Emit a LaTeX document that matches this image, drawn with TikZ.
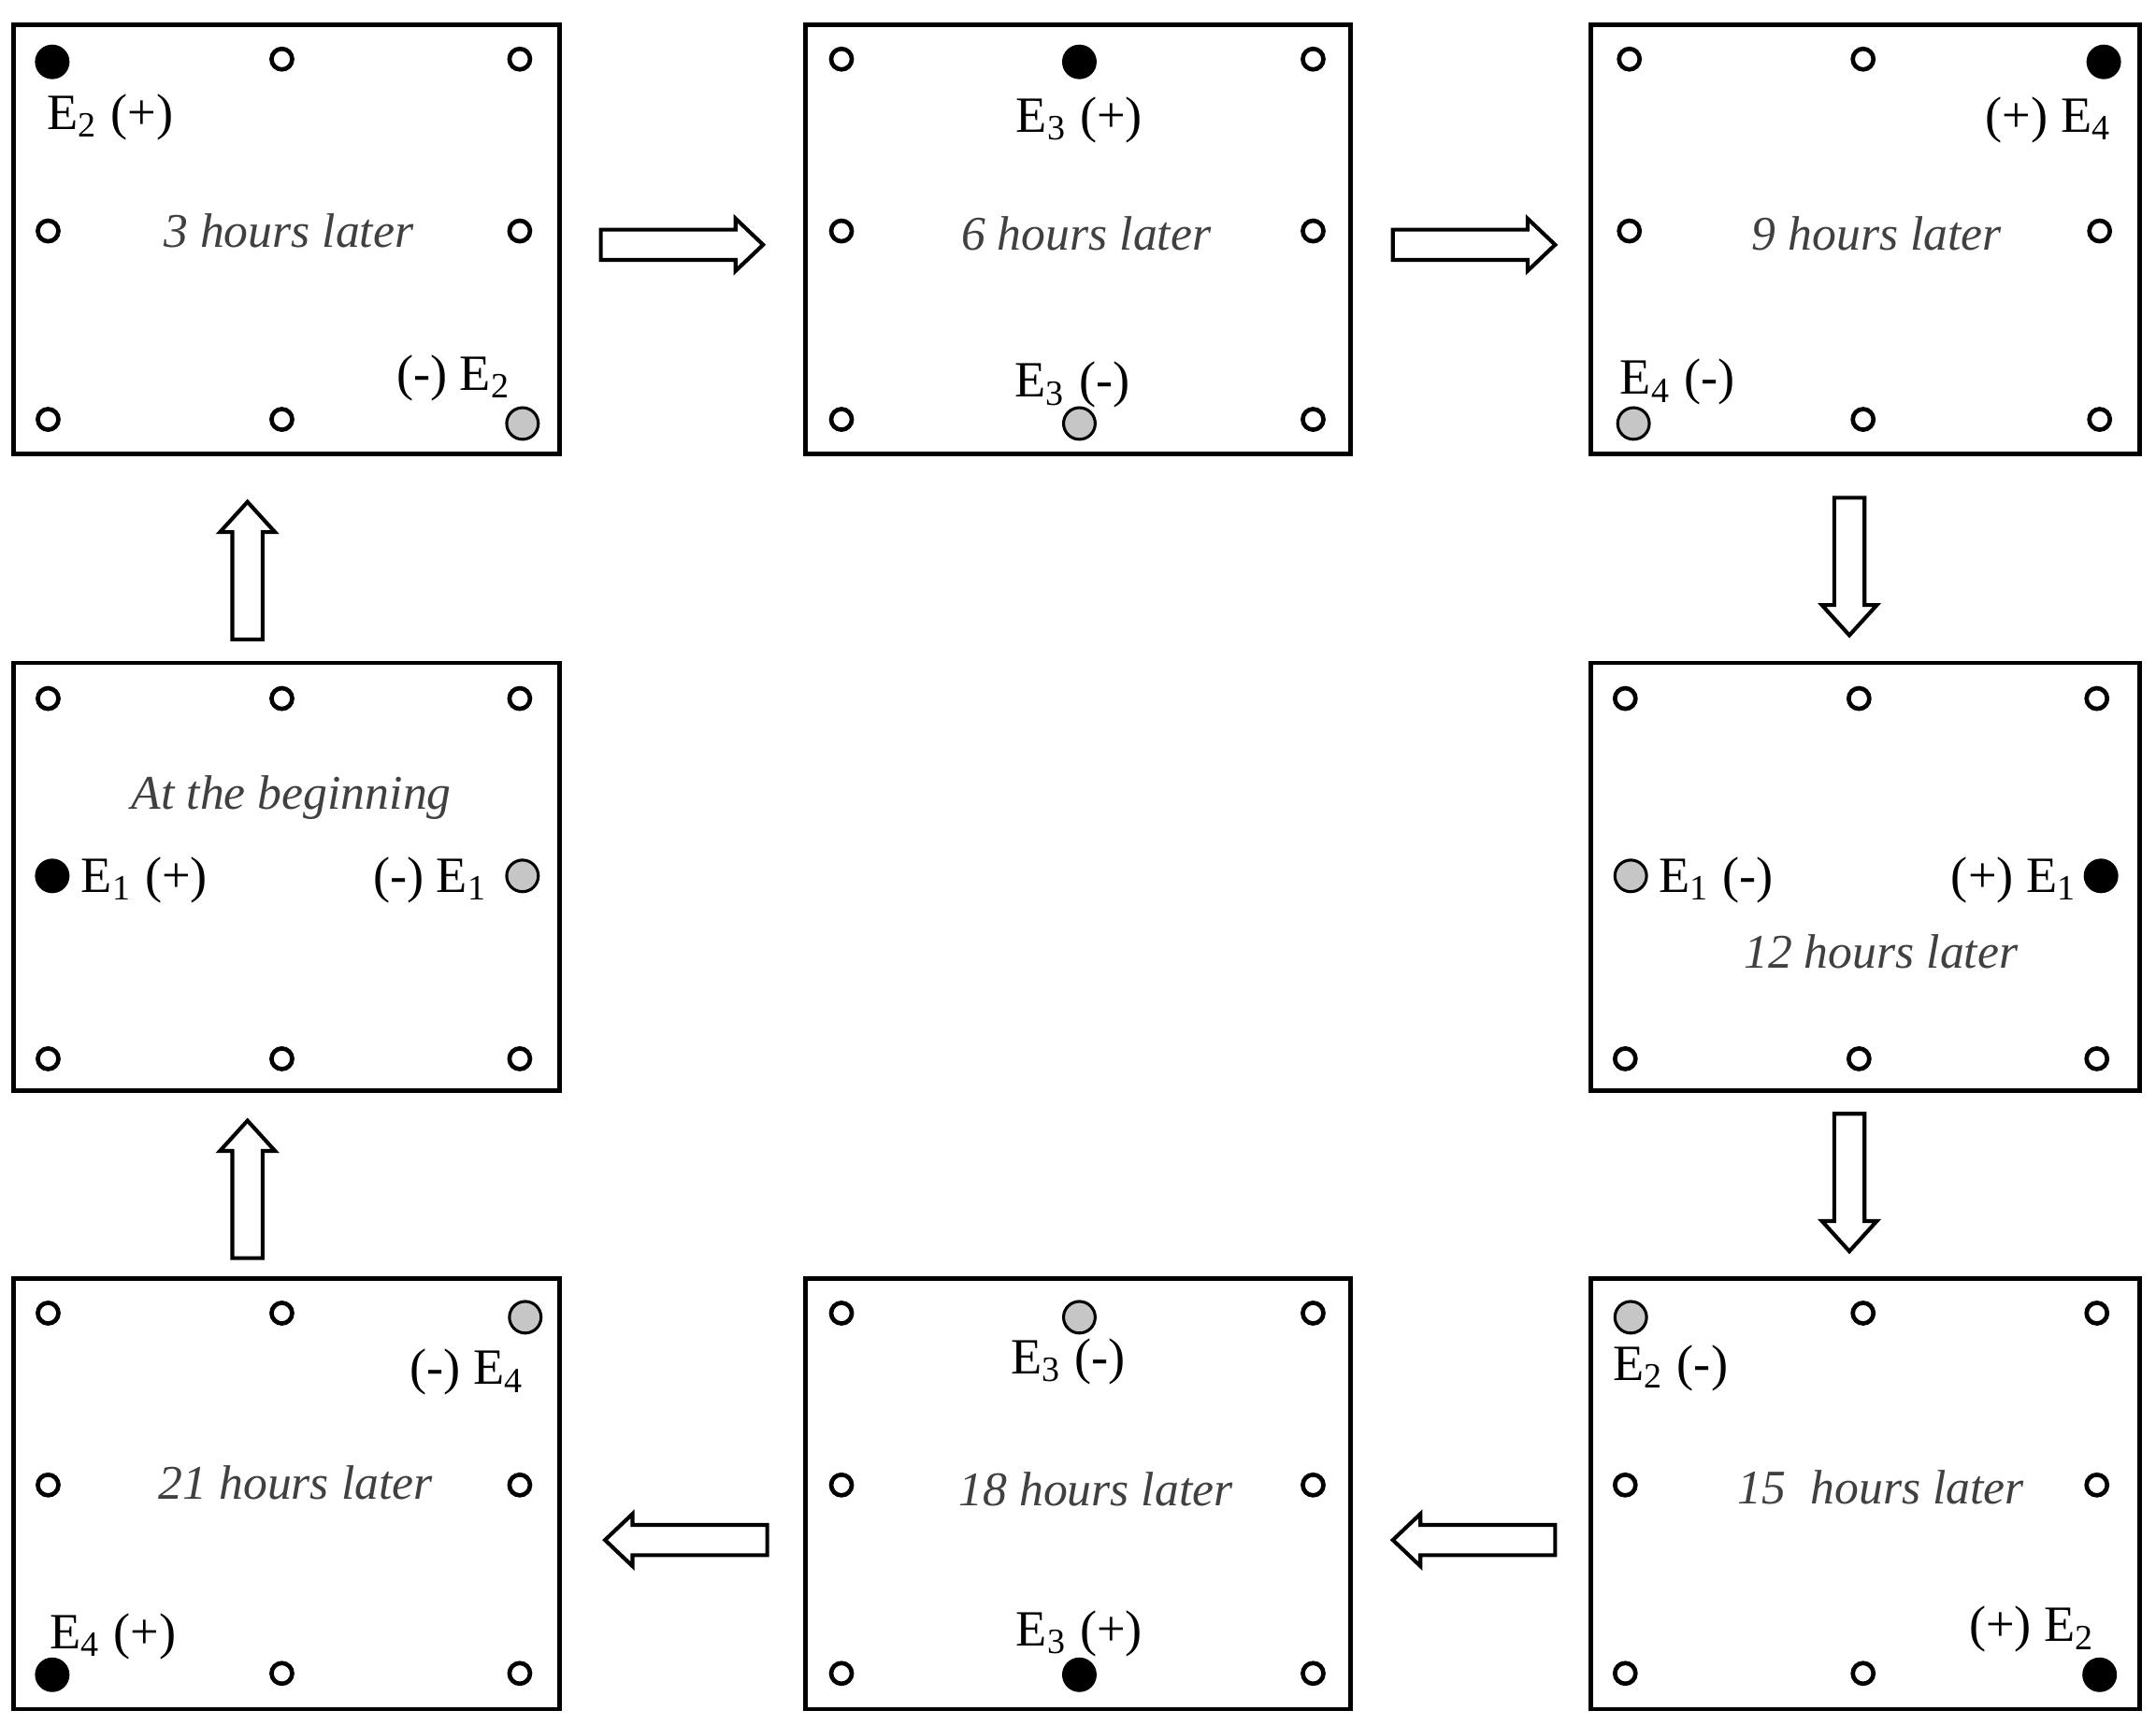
\documentclass[tikz,border=0pt]{standalone}
\usepackage{fontspec}
\setmainfont{Liberation Serif}
\begin{document}
\begin{tikzpicture}[x=0.01cm,y=-0.01cm,
  panel/.style={draw,line width=0.9pt},
  hole/.style={circle,draw,line width=0.9pt,inner sep=0pt,minimum size=0.15cm},
  posel/.style={circle,draw,fill=black,line width=0.6pt,inner sep=0pt,minimum size=0.23cm},
  negel/.style={circle,draw,fill=gray!45,line width=0.6pt,inner sep=0pt,minimum size=0.23cm},
  lab/.style={font=\fontsize{10.5}{12}\selectfont,inner sep=0pt},
  tim/.style={font=\fontsize{10}{12}\selectfont\itshape,text=black!75,inner sep=0pt},
  blk/.style={draw,line width=0.8pt,fill=white}]
\useasboundingbox (0,0) rectangle (1568,1254);
% panels
\draw[panel] (10,18) rectangle (407,330) coordinate (p3);
\draw[panel] (586,18) rectangle (982,330) coordinate (p6);
\draw[panel] (1157,18) rectangle (1556,330) coordinate (p9);
\draw[panel] (10,482) rectangle (407,793) coordinate (p0);
\draw[panel] (1157,482) rectangle (1556,793) coordinate (p12);
\draw[panel] (10,930) rectangle (407,1243) coordinate (p21);
\draw[panel] (586,930) rectangle (982,1243) coordinate (p18);
\draw[panel] (1157,930) rectangle (1556,1243) coordinate (p15);
% open holes
\foreach \x/\y [count=\i] in {205/43,378/43,35/168,378/168,35/305,205/305,
  612/43,955/43,612/168,955/168,612/305,955/305,
  1185/43,1355/43,1185/168,1527/168,1355/305,1527/305,
  35/508,205/508,378/508,35/770,205/770,378/770,
  1182/508,1352/508,1525/508,1182/770,1352/770,1525/770,
  35/955,205/955,35/1080,378/1080,205/1217,378/1217,
  612/955,955/955,612/1080,955/1080,612/1217,955/1217,
  1355/955,1525/955,1182/1080,1525/1080,1182/1217,1355/1217}
  \node[hole] (h\i) at (\x,\y) {};
% electrodes
\foreach \x/\y [count=\i] in {38/45,785/45,1530/45,38/637,1528/637,38/1218,785/1218,1527/1218}
  \node[posel] (ep\i) at (\x,\y) {};
\foreach \x/\y [count=\i] in {380/308,785/308,1188/308,380/637,1186/637,382/958,785/958,1186/958}
  \node[negel] (en\i) at (\x,\y) {};
% labels
\node[lab] (l1) at (80,85) {E\textsubscript{2} (+)};
\node[lab] (l2) at (330,275) {(-) E\textsubscript{2}};
\node[lab] (l3) at (785,87) {E\textsubscript{3} (+)};
\node[lab] (l4) at (780,280) {E\textsubscript{3} (-)};
\node[lab] (l5) at (1490,87) {(+) E\textsubscript{4}};
\node[lab] (l6) at (1220,278) {E\textsubscript{4} (-)};
\node[lab] (l7) at (105,640) {E\textsubscript{1} (+)};
\node[lab] (l8) at (313,640) {(-) E\textsubscript{1}};
\node[lab] (l9) at (1248,640) {E\textsubscript{1} (-)};
\node[lab] (l10) at (1465,640) {(+) E\textsubscript{1}};
\node[lab] (l11) at (340,998) {(-) E\textsubscript{4}};
\node[lab] (l12) at (82,1190) {E\textsubscript{4} (+)};
\node[lab] (l13) at (777,990) {E\textsubscript{3} (-)};
\node[lab] (l14) at (785,1188) {E\textsubscript{3} (+)};
\node[lab] (l15) at (1215,995) {E\textsubscript{2} (-)};
\node[lab] (l16) at (1478,1185) {(+) E\textsubscript{2}};
% times
\node[tim] (t3) at (210,168) {3 hours later};
\node[tim] (t6) at (790,170) {6 hours later};
\node[tim] (t9) at (1365,170) {9 hours later};
\node[tim] (t0) at (212,580) {At the beginning};
\node[tim] (t12) at (1368,692) {12 hours later};
\node[tim] (t21) at (215,1078) {21 hours later};
\node[tim] (t18) at (797,1083) {18 hours later};
\node[tim] (t15) at (1368,1082) {15\ \ hours later};
% block arrows (centre x / centre y / rotation)
\foreach \cx/\cy/\r in {496/178/0,1072/178/0,499/1120/180,1072/1120/180}
  \draw[blk,shift={(\cx,\cy)},rotate=\r] (-59,-11) -- (39,-11) -- (39,-19) -- (59,0) -- (39,19) -- (39,11) -- (-59,11) -- cycle;
\foreach \cx/\cy/\r in {1345,412/-90,1345/860/-90,180/865/90,180/415/90}
  {}
\foreach \cx/\cy/\d in {1345/412/1,1345/860/1,180/865/-1,180/415/-1}
  \draw[blk,shift={(\cx,\cy)}] (-11,-50*\d) -- (-11,28*\d) -- (-20,28*\d) -- (0,50*\d) -- (20,28*\d) -- (11,28*\d) -- (11,-50*\d) -- cycle;
\end{tikzpicture}
\end{document}
